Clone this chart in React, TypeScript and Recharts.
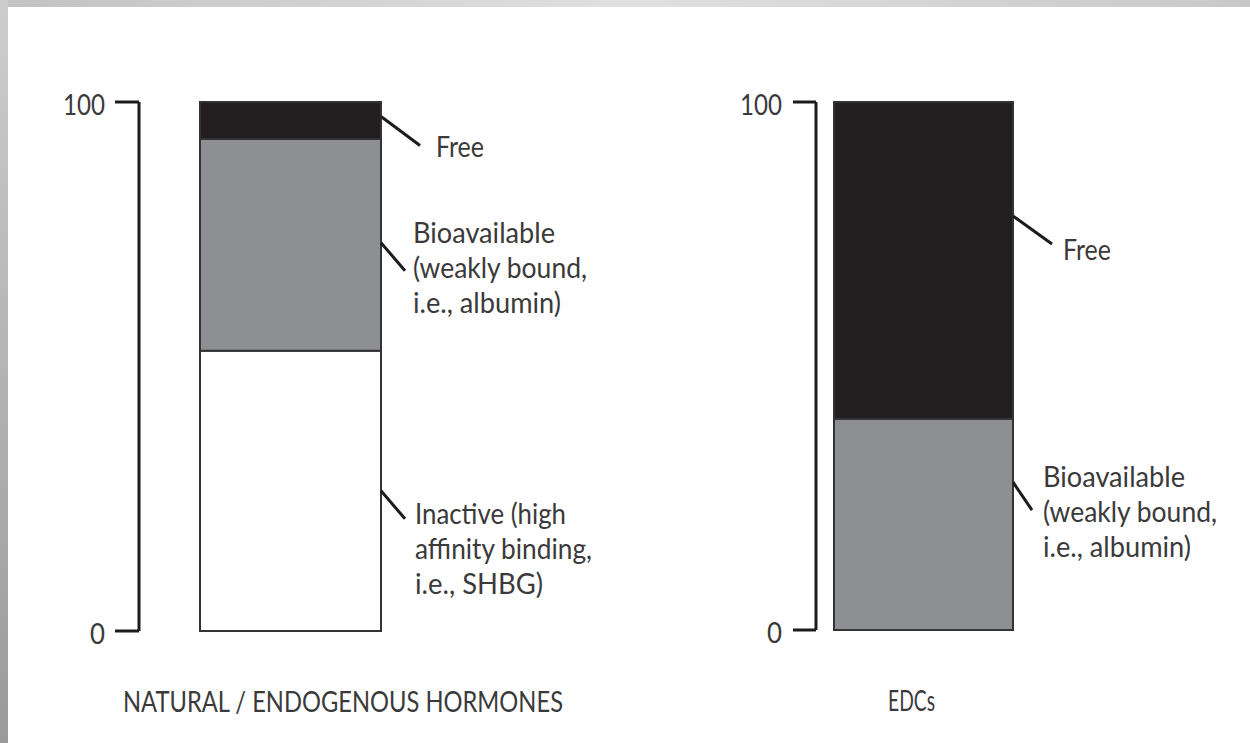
import React from "react";
import { BarChart, Bar, XAxis, YAxis, LabelList } from "recharts";

// ---------- data ----------
const leftCategories = ["NATURAL / ENDOGENOUS HORMONES"];
const leftInactive = [53];
const leftBioavailable = [40];
const leftFree = [7];

const rightCategories = ["EDCs"];
const rightBioavailable = [40];
const rightFree = [60];

const yTicks = [0, 100];

const freeLines = ["Free"];
const bioLines = ["Bioavailable", "(weakly bound,", "i.e., albumin)"];
const inactiveLines = ["Inactive (high", "affinity binding,", "i.e., SHBG)"];

// ---------- styles ----------
const FONT = "Lato, 'Noto Sans', sans-serif";
const FONT_SIZE = 29;
const TEXT_COLOR = "#3a3a3a";
const LINE_COLOR = "#1c1c1c";
const BLACK = "#231f20";
const GRAY = "#8e8f93";
const WHITE = "#ffffff";
const LINE_GAP = 35;

// text widths (to mimic the narrow original typeface)
const textWidths: Record<string, number> = {
  "Free": 48,
  "Bioavailable": 142,
  "(weakly bound,": 174,
  "i.e., albumin)": 148,
  "Inactive (high": 151,
  "affinity binding,": 177,
  "i.e., SHBG)": 128,
  "NATURAL / ENDOGENOUS HORMONES": 440,
  "EDCs": 47,
  "100": 42,
  "0": 15,
};

type AnnCfg = {
  lines: string[];
  anchor: number; // fraction of segment height from top
  dx: number;
  dy: number;
  tx: number;
  ty: number;
};

const leftFreeAnn: AnnCfg = { lines: freeLines, anchor: 0.39, dx: 39, dy: 29, tx: 16, ty: 12 };
const leftBioAnn: AnnCfg = { lines: bioLines, anchor: 0.49, dx: 24, dy: 28, tx: 8, ty: -28 };
const leftInactiveAnn: AnnCfg = { lines: inactiveLines, anchor: 0.5, dx: 24, dy: 28, tx: 10, ty: 5 };
const rightFreeAnn: AnnCfg = { lines: freeLines, anchor: 0.36, dx: 39, dy: 28, tx: 11, ty: 16 };
const rightBioAnn: AnnCfg = { lines: bioLines, anchor: 0.3, dx: 19, dy: 28, tx: 11, ty: -23 };

const leftData = leftCategories.map((name, i) => ({
  name,
  inactive: leftInactive[i],
  bioavailable: leftBioavailable[i],
  free: leftFree[i],
}));

const rightData = rightCategories.map((name, i) => ({
  name,
  bioavailable: rightBioavailable[i],
  free: rightFree[i],
}));

function SText({ x, y, children, anchor = "start" }: any) {
  const w = textWidths[children as string];
  return (
    <text
      x={x}
      y={y}
      textAnchor={anchor}
      fontFamily={FONT}
      fontSize={FONT_SIZE}
      fill={TEXT_COLOR}
      textLength={w}
      lengthAdjust="spacingAndGlyphs"
    >
      {children}
    </text>
  );
}

function Annotation({ p, cfg }: { p: any; cfg: AnnCfg }) {
  const vb = p && p.viewBox && p.viewBox.width !== undefined ? p.viewBox : p;
  const x = Number(vb.x);
  const y = Number(vb.y);
  const w = Number(vb.width);
  const h = Number(vb.height);
  if (!isFinite(x) || !isFinite(y) || !isFinite(w) || !isFinite(h)) return null;
  const top = Math.min(y, y + h);
  const hh = Math.abs(h);
  const sx = x + w;
  const sy = top + hh * cfg.anchor;
  const ex = sx + cfg.dx;
  const ey = sy + cfg.dy;
  return (
    <g>
      <line x1={sx} y1={sy} x2={ex} y2={ey} stroke={LINE_COLOR} strokeWidth={3} />
      {cfg.lines.map((t, i) => (
        <SText key={i} x={ex + cfg.tx} y={ey + cfg.ty + i * LINE_GAP}>
          {t}
        </SText>
      ))}
    </g>
  );
}

function YTick(props: any) {
  const { x, y, payload } = props;
  return (
    <SText x={x} y={y + 13} anchor="end">
      {String(payload.value)}
    </SText>
  );
}

function makeXTick(offset: number) {
  return function XTick(props: any) {
    const { x, y, payload } = props;
    return (
      <SText x={x + offset} y={y + 81}>
        {String(payload.value)}
      </SText>
    );
  };
}

const LeftXTick = makeXTick(-167.5);
const RightXTick = makeXTick(-35.5);

const axisLine = { stroke: LINE_COLOR, strokeWidth: 3 };

export default function App() {
  return (
    <div
      style={{
        position: "absolute",
        left: 0,
        top: 0,
        width: 1250,
        height: 743,
        background: "#ffffff",
        overflow: "hidden",
      }}
    >
      <div style={{ position: "absolute", left: 0, top: 0 }}>
        <BarChart
          width={720}
          height={743}
          data={leftData}
          margin={{ top: 102, right: 278, bottom: 52, left: 0 }}
        >
          <XAxis
            dataKey="name"
            axisLine={false}
            tickLine={false}
            tickSize={0}
            tickMargin={0}
            height={60}
            tick={<LeftXTick />}
          />
          <YAxis
            domain={[0, 100]}
            ticks={yTicks}
            width={139}
            axisLine={axisLine}
            tickLine={axisLine}
            tickSize={24}
            tickMargin={10}
            tick={<YTick />}
          />
          <Bar dataKey="inactive" stackId="s" fill={WHITE} stroke="#333" strokeWidth={2} barSize={181} isAnimationActive={false}>
            <LabelList dataKey="inactive" content={(p: any) => <Annotation p={p} cfg={leftInactiveAnn} />} />
          </Bar>
          <Bar dataKey="bioavailable" stackId="s" fill={GRAY} stroke="#333" strokeWidth={2} barSize={181} isAnimationActive={false}>
            <LabelList dataKey="bioavailable" content={(p: any) => <Annotation p={p} cfg={leftBioAnn} />} />
          </Bar>
          <Bar dataKey="free" stackId="s" fill={BLACK} stroke="#333" strokeWidth={2} barSize={181} isAnimationActive={false}>
            <LabelList dataKey="free" content={(p: any) => <Annotation p={p} cfg={leftFreeAnn} />} />
          </Bar>
        </BarChart>
      </div>

      <div style={{ position: "absolute", left: 625, top: 0 }}>
        <BarChart
          width={625}
          height={743}
          data={rightData}
          margin={{ top: 102, right: 219, bottom: 53, left: 0 }}
        >
          <XAxis
            dataKey="name"
            axisLine={false}
            tickLine={false}
            tickSize={0}
            tickMargin={0}
            height={60}
            tick={<RightXTick />}
          />
          <YAxis
            domain={[0, 100]}
            ticks={yTicks}
            width={191}
            axisLine={axisLine}
            tickLine={axisLine}
            tickSize={23}
            tickMargin={11}
            tick={<YTick />}
          />
          <Bar dataKey="bioavailable" stackId="s" fill={GRAY} stroke="#333" strokeWidth={2} barSize={179} isAnimationActive={false}>
            <LabelList dataKey="bioavailable" content={(p: any) => <Annotation p={p} cfg={rightBioAnn} />} />
          </Bar>
          <Bar dataKey="free" stackId="s" fill={BLACK} stroke="#333" strokeWidth={2} barSize={179} isAnimationActive={false}>
            <LabelList dataKey="free" content={(p: any) => <Annotation p={p} cfg={rightFreeAnn} />} />
          </Bar>
        </BarChart>
      </div>

      <div
        style={{
          position: "absolute",
          left: 0,
          top: 0,
          width: 1250,
          height: 7,
          background: "linear-gradient(to right, #c2c2c2, #e0e0e0 50%, #c8c8c8)",
        }}
      />
      <div
        style={{
          position: "absolute",
          left: 0,
          top: 0,
          width: 8,
          height: 743,
          background: "linear-gradient(to bottom, #cdcdcd, #9a9a9a)",
        }}
      />
    </div>
  );
}
